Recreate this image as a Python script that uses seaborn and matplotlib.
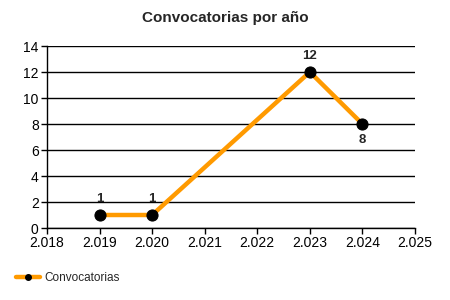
import matplotlib
matplotlib.use("Agg")
import matplotlib.pyplot as plt
import seaborn as sns
import pandas as pd
from matplotlib.ticker import FixedLocator
from matplotlib.lines import Line2D

years = [2019, 2020, 2023, 2024]
values = [1, 1, 12, 8]
x_ticks = [2018, 2019, 2020, 2021, 2022, 2023, 2024, 2025]
x_tick_labels = ["2.018", "2.019", "2.020", "2.021", "2.022", "2.023", "2.024", "2.025"]
y_ticks = [0, 2, 4, 6, 8, 10, 12, 14]
title = "Convocatorias por año"
series_name = "Convocatorias"

sns.set_style("white")
plt.rcParams['font.family'] = ['Liberation Sans', 'DejaVu Sans']

df = pd.DataFrame({"year": years, "value": values})

fig = plt.figure(figsize=(4.5, 3), dpi=100)
ax = fig.add_axes([47/450, 72/300, (415-47)/450, (228-46)/300])

orange = "#FF9A00"
sns.lineplot(data=df, x="year", y="value", ax=ax, color=orange, linewidth=3.2,
             marker="o", markersize=8, markerfacecolor="black", markeredgecolor="black",
             zorder=3, legend=False)

ax.set_xlim(2018, 2025)
ax.set_ylim(0, 14)
ax.xaxis.set_major_locator(FixedLocator(x_ticks))
ax.set_xticklabels(x_tick_labels)
ax.set_yticks(y_ticks)
ax.grid(axis="y", color="black", linewidth=1)
ax.grid(axis="x", visible=False)
for s in ["top", "right"]:
    ax.spines[s].set_visible(False)
for s in ["left", "bottom"]:
    ax.spines[s].set_color("black")
    ax.spines[s].set_linewidth(1)
ax.tick_params(axis="both", direction="out", length=4, width=1, color="black",
               labelsize=10, labelcolor="black", pad=2, left=True, bottom=True)
ax.set_xlabel("")
ax.set_ylabel("")

for x, y in zip(years, values):
    if x != years[-1]:
        ax.annotate(str(y), (x, y), xytext=(0, 7.5), textcoords="offset points",
                    ha="center", va="bottom", fontsize=9.5, fontweight="bold")
    else:
        ax.annotate(str(y), (x, y), xytext=(0, -7.5), textcoords="offset points",
                    ha="center", va="top", fontsize=9.5, fontweight="bold")

fig.text(0.5, 1 - 18/300, title, ha="center", va="center", fontsize=11, fontweight="bold")

handle = Line2D([0], [0], color=orange, linewidth=3.2, marker="o", markersize=4,
                markerfacecolor="black", markeredgecolor="black")
fig.legend([handle], [series_name], loc="center left", bbox_to_anchor=(16/450, 1 - 278/300),
           frameon=False, fontsize=8.5, handlelength=2.0, handletextpad=0.4, borderaxespad=0,
           borderpad=0)

fig.savefig("out.png", dpi=100)
